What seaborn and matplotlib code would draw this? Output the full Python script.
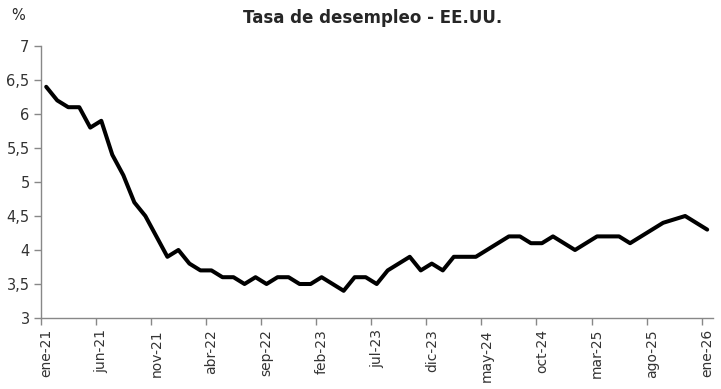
import numpy as np
import pandas as pd
import matplotlib
matplotlib.use('Agg')
import matplotlib.pyplot as plt
import seaborn as sns

# Monthly unemployment rate, ene-21 .. ene-26
months_es = ['ene', 'feb', 'mar', 'abr', 'may', 'jun', 'jul', 'ago', 'sep', 'oct', 'nov', 'dic']
rate = [6.4, 6.2, 6.1, 6.1, 5.8, 5.9, 5.4, 5.1, 4.7, 4.5, 4.2, 3.9,
        4.0, 3.8, 3.7, 3.7, 3.6, 3.6, 3.5, 3.6, 3.5, 3.6, 3.6, 3.5,
        3.5, 3.6, 3.5, 3.4, 3.6, 3.6, 3.5, 3.7, 3.8, 3.9, 3.7, 3.8,
        3.7, 3.9, 3.9, 3.9, 4.0, 4.1, 4.2, 4.2, 4.1, 4.1, 4.2, 4.1,
        4.0, 4.1, 4.2, 4.2, 4.2, 4.1, 4.2, 4.3, 4.4, 4.45, 4.5, 4.4,
        4.3]
labels = [f"{months_es[i % 12]}-{21 + i // 12}" for i in range(len(rate))]
y_ticks = [3, 3.5, 4, 4.5, 5, 5.5, 6, 6.5, 7]

df = pd.DataFrame({'idx': np.arange(len(rate)), 'rate': rate})

sns.set_style('white')
plt.rcParams['font.family'] = ['DejaVu Sans']

fig = plt.figure(figsize=(7.21, 3.89), dpi=100)
ax = fig.add_axes([40.7 / 721, 71 / 389, 672 / 721, 272 / 389])
sns.lineplot(data=df, x='idx', y='rate', ax=ax, color='black', linewidth=2.9)

n = len(rate)
ax.set_xlim(-0.5, n - 0.5)
ax.set_ylim(3, 7)
# tick marks sit on category boundaries, labels on the categories
ax.set_xticks(np.arange(0, n, 5) - 0.5)
ax.set_xticklabels([])
ax.set_xticks(df['idx'][::5], minor=True)
ax.set_xticklabels(labels[::5], minor=True, rotation=90, fontsize=10, color='#333333')
ax.set_yticks(y_ticks)
ax.set_yticklabels([str(v).replace('.', ',').replace(',0', '') for v in y_ticks],
                   fontsize=10.5, color='#333333')
ax.set_xlabel('')
ax.set_ylabel('')

for side in ['top', 'right']:
    ax.spines[side].set_visible(False)
for side in ['left', 'bottom']:
    ax.spines[side].set_color('#888888')
    ax.spines[side].set_linewidth(1)
ax.tick_params(axis='both', which='major', bottom=True, left=True, direction='out',
               length=5, color='#888888', width=1, pad=3)
ax.tick_params(axis='x', which='minor', bottom=True, length=0, pad=8)

fig.text(373 / 721, 1 - 18 / 389, 'Tasa de desempleo - EE.UU.', ha='center', va='center',
         fontsize=12, fontweight='bold')
fig.text(18 / 721, 1 - 15 / 389, '%', ha='center', va='center', fontsize=10.5)

fig.savefig('out.png', dpi=100)
